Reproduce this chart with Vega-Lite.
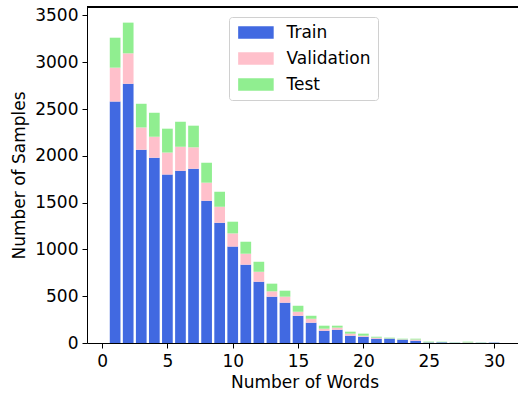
{
  "$schema": "https://vega.github.io/schema/vega-lite/v6.json",
  "width": 431,
  "height": 336,
  "autosize": {"type": "none"},
  "padding": {"left": 87, "top": 7, "right": 0, "bottom": 51},
  "background": "white",
  "config": {
    "view": {"stroke": null},
    "font": "DejaVu Sans",
    "axis": {
      "labelFont": "DejaVu Sans",
      "labelFontSize": 17,
      "labelColor": "black",
      "titleFont": "DejaVu Sans",
      "titleFontSize": 17,
      "titleFontWeight": "normal",
      "titleColor": "black",
      "domainColor": "black",
      "domainWidth": 1,
      "tickColor": "black",
      "tickWidth": 1,
      "tickSize": 5,
      "grid": false
    },
    "legend": {
      "labelFont": "DejaVu Sans",
      "labelFontSize": 17,
      "labelColor": "black"
    }
  },
  "datasets": {
    "counts": [
      {"words": 1, "split": "Train", "o": 1, "count": 2580}, {"words": 1, "split": "Validation", "o": 2, "count": 362}, {"words": 1, "split": "Test", "o": 3, "count": 320},
      {"words": 2, "split": "Train", "o": 1, "count": 2770}, {"words": 2, "split": "Validation", "o": 2, "count": 325}, {"words": 2, "split": "Test", "o": 3, "count": 328},
      {"words": 3, "split": "Train", "o": 1, "count": 2065}, {"words": 3, "split": "Validation", "o": 2, "count": 238}, {"words": 3, "split": "Test", "o": 3, "count": 253},
      {"words": 4, "split": "Train", "o": 1, "count": 1980}, {"words": 4, "split": "Validation", "o": 2, "count": 224}, {"words": 4, "split": "Test", "o": 3, "count": 256},
      {"words": 5, "split": "Train", "o": 1, "count": 1800}, {"words": 5, "split": "Validation", "o": 2, "count": 235}, {"words": 5, "split": "Test", "o": 3, "count": 255},
      {"words": 6, "split": "Train", "o": 1, "count": 1840}, {"words": 6, "split": "Validation", "o": 2, "count": 257}, {"words": 6, "split": "Test", "o": 3, "count": 267},
      {"words": 7, "split": "Train", "o": 1, "count": 1862}, {"words": 7, "split": "Validation", "o": 2, "count": 229}, {"words": 7, "split": "Test", "o": 3, "count": 231},
      {"words": 8, "split": "Train", "o": 1, "count": 1520}, {"words": 8, "split": "Validation", "o": 2, "count": 193}, {"words": 8, "split": "Test", "o": 3, "count": 213},
      {"words": 9, "split": "Train", "o": 1, "count": 1285}, {"words": 9, "split": "Validation", "o": 2, "count": 171}, {"words": 9, "split": "Test", "o": 3, "count": 160},
      {"words": 10, "split": "Train", "o": 1, "count": 1030}, {"words": 10, "split": "Validation", "o": 2, "count": 141}, {"words": 10, "split": "Test", "o": 3, "count": 125},
      {"words": 11, "split": "Train", "o": 1, "count": 837}, {"words": 11, "split": "Validation", "o": 2, "count": 117}, {"words": 11, "split": "Test", "o": 3, "count": 128},
      {"words": 12, "split": "Train", "o": 1, "count": 655}, {"words": 12, "split": "Validation", "o": 2, "count": 106}, {"words": 12, "split": "Test", "o": 3, "count": 107},
      {"words": 13, "split": "Train", "o": 1, "count": 495}, {"words": 13, "split": "Validation", "o": 2, "count": 57}, {"words": 13, "split": "Test", "o": 3, "count": 82},
      {"words": 14, "split": "Train", "o": 1, "count": 431}, {"words": 14, "split": "Validation", "o": 2, "count": 64}, {"words": 14, "split": "Test", "o": 3, "count": 64},
      {"words": 15, "split": "Train", "o": 1, "count": 291}, {"words": 15, "split": "Validation", "o": 2, "count": 43}, {"words": 15, "split": "Test", "o": 3, "count": 64},
      {"words": 16, "split": "Train", "o": 1, "count": 217}, {"words": 16, "split": "Validation", "o": 2, "count": 42}, {"words": 16, "split": "Test", "o": 3, "count": 32},
      {"words": 17, "split": "Train", "o": 1, "count": 131}, {"words": 17, "split": "Validation", "o": 2, "count": 22}, {"words": 17, "split": "Test", "o": 3, "count": 32},
      {"words": 18, "split": "Train", "o": 1, "count": 142}, {"words": 18, "split": "Validation", "o": 2, "count": 22}, {"words": 18, "split": "Test", "o": 3, "count": 21},
      {"words": 19, "split": "Train", "o": 1, "count": 78}, {"words": 19, "split": "Validation", "o": 2, "count": 22}, {"words": 19, "split": "Test", "o": 3, "count": 21},
      {"words": 20, "split": "Train", "o": 1, "count": 67}, {"words": 20, "split": "Validation", "o": 2, "count": 11}, {"words": 20, "split": "Test", "o": 3, "count": 22},
      {"words": 21, "split": "Train", "o": 1, "count": 46}, {"words": 21, "split": "Validation", "o": 2, "count": 11}, {"words": 21, "split": "Test", "o": 3, "count": 10},
      {"words": 22, "split": "Train", "o": 1, "count": 46}, {"words": 22, "split": "Validation", "o": 2, "count": 3}, {"words": 22, "split": "Test", "o": 3, "count": 8},
      {"words": 23, "split": "Train", "o": 1, "count": 35}, {"words": 23, "split": "Validation", "o": 2, "count": 4}, {"words": 23, "split": "Test", "o": 3, "count": 7},
      {"words": 24, "split": "Train", "o": 1, "count": 25}, {"words": 24, "split": "Validation", "o": 2, "count": 12}, {"words": 24, "split": "Test", "o": 3, "count": 9},
      {"words": 25, "split": "Train", "o": 1, "count": 5}, {"words": 25, "split": "Validation", "o": 2, "count": 2}, {"words": 25, "split": "Test", "o": 3, "count": 8},
      {"words": 26, "split": "Train", "o": 1, "count": 7}, {"words": 26, "split": "Validation", "o": 2, "count": 1}, {"words": 26, "split": "Test", "o": 3, "count": 6},
      {"words": 27, "split": "Train", "o": 1, "count": 2}, {"words": 27, "split": "Validation", "o": 2, "count": 0}, {"words": 27, "split": "Test", "o": 3, "count": 3},
      {"words": 28, "split": "Train", "o": 1, "count": 2}, {"words": 28, "split": "Validation", "o": 2, "count": 4}, {"words": 28, "split": "Test", "o": 3, "count": 8},
      {"words": 29, "split": "Train", "o": 1, "count": 2}, {"words": 29, "split": "Validation", "o": 2, "count": 0}, {"words": 29, "split": "Test", "o": 3, "count": 3},
      {"words": 30, "split": "Train", "o": 1, "count": 4}, {"words": 30, "split": "Validation", "o": 2, "count": 0}, {"words": 30, "split": "Test", "o": 3, "count": 1}
    ]
  },
  "data": {"name": "counts"},
  "layer": [
    {
      "mark": {"type": "bar", "width": 10.7},
      "encoding": {
        "x": {
          "field": "words",
          "type": "quantitative",
          "scale": {"domain": [-0.77, 31.45], "nice": false, "zero": false},
          "axis": {
            "values": [0, 5, 10, 15, 20, 25, 30],
            "format": "d",
            "title": "Number of Words",
            "labelPadding": 5,
            "titlePadding": 5,
            "titleX": 217.5
          }
        },
        "y": {
          "field": "count",
          "type": "quantitative",
          "stack": "zero",
          "scale": {"domain": [0, 3590], "nice": false},
          "axis": {
            "values": [0, 500, 1000, 1500, 2000, 2500, 3000, 3500],
            "format": "d",
            "title": "Number of Samples",
            "labelPadding": 4,
            "titlePadding": 6
          }
        },
        "order": {"field": "o", "type": "quantitative", "sort": "ascending"},
        "color": {
          "field": "split",
          "type": "nominal",
          "sort": ["Train", "Validation", "Test"],
          "scale": {"domain": ["Train", "Validation", "Test"], "range": ["#4169E1", "#FFC0CB", "#90EE90"]},
          "legend": {
            "title": null,
            "orient": "none",
            "legendX": 142,
            "legendY": 10,
            "symbolType": "M-1,-1H4.6V1H-1Z",
            "symbolSize": 161,
            "symbolStrokeWidth": 0,
            "symbolOpacity": 1,
            "labelOffset": 33.5,
            "rowPadding": 8,
            "padding": 7,
            "strokeColor": "#d0d0d0",
            "fillColor": "white",
            "cornerRadius": 3
          }
        }
      }
    },
    {
      "mark": {"type": "rule", "color": "black", "strokeWidth": 1},
      "encoding": {"y": {"datum": 3590}}
    }
  ]
}
